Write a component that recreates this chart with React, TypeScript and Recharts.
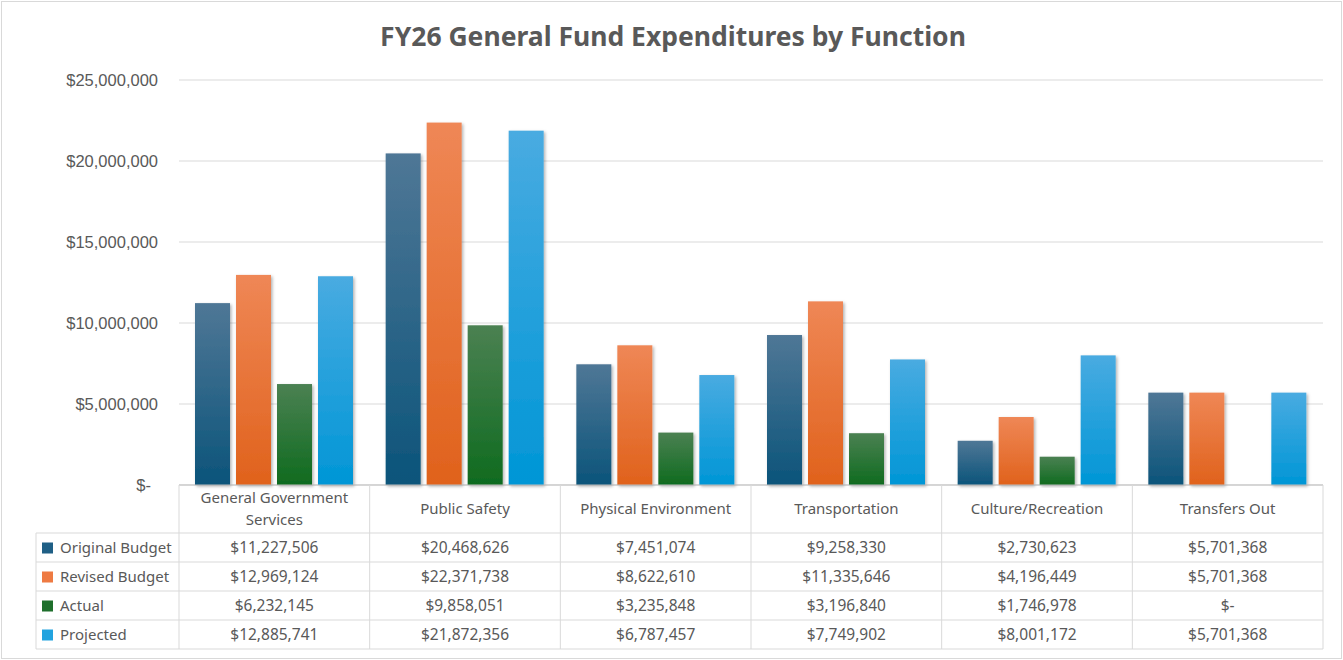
import { BarChart, Bar, XAxis, YAxis, CartesianGrid } from "recharts";

// FY26 general fund expenditures
const categories = [
  "General Government Services",
  "Public Safety",
  "Physical Environment",
  "Transportation",
  "Culture/Recreation",
  "Transfers Out",
];
const originalBudget = [11227506, 20468626, 7451074, 9258330, 2730623, 5701368];
const revisedBudget = [12969124, 22371738, 8622610, 11335646, 4196449, 5701368];
const actual = [6232145, 9858051, 3235848, 3196840, 1746978, 0];
const projected = [12885741, 21872356, 6787457, 7749902, 8001172, 5701368];
const yTicks = [0, 5000000, 10000000, 15000000, 20000000, 25000000];

const SERIES = [
  { key: "original", name: "Original Budget", values: originalBudget, top: "#4f7796", bottom: "#0b547a", swatch: "#1f5f85" },
  { key: "revised", name: "Revised Budget", values: revisedBudget, top: "#ef8756", bottom: "#e0621c", swatch: "#ee7a42" },
  { key: "actual", name: "Actual", values: actual, top: "#4b8152", bottom: "#0f6b1f", swatch: "#1e6f2c" },
  { key: "projected", name: "Projected", values: projected, top: "#49abe1", bottom: "#0096d6", swatch: "#22a3df" },
];

const data = categories.map((c, i) => {
  const row: Record<string, string | number> = { name: c };
  SERIES.forEach((s) => (row[s.key] = s.values[i]));
  return row;
});

const W = 1343;
const H = 660;
const PLOT_LEFT = 179;
const PLOT_RIGHT = 1323;
const TABLE_TOP = 485;
const HEADER_H = 48;
const ROW_H = 29;
const LEGEND_LEFT = 36;
const TEXT = "#595959";
const LINE = "#d9d9d9";
const FONT = "'Liberation Sans', Arial, sans-serif";
const TABLE_FONT = "'Noto Sans', 'Open Sans', sans-serif";

const money = (v: number) => (v === 0 ? "$-" : "$" + v.toLocaleString("en-US"));
const colW = (PLOT_RIGHT - PLOT_LEFT) / categories.length;

function wrap(label: string): string[] {
  if (label.length <= 22) return [label];
  const words = label.split(" ");
  const lines: string[] = [];
  let cur = "";
  words.forEach((w) => {
    const next = cur ? cur + " " + w : w;
    if (next.length > 19 && cur) {
      lines.push(cur);
      cur = w;
    } else cur = next;
  });
  lines.push(cur);
  return lines;
}

function TableColumn(props: any) {
  const { x, payload, index } = props;
  const left = x - colW / 2;
  const lines = wrap(payload.value);
  const bottom = TABLE_TOP + HEADER_H + ROW_H * SERIES.length;
  return (
    <g>
      <line x1={left + colW} x2={left + colW} y1={TABLE_TOP} y2={bottom} stroke={LINE} />
      {index === 0 && <line x1={left} x2={left} y1={TABLE_TOP} y2={bottom} stroke={LINE} />}
      <text x={x} textAnchor="middle" fontSize={15} fill={TEXT} fontFamily={TABLE_FONT}>
        {lines.map((l, i) => (
          <tspan key={i} x={x} y={TABLE_TOP + HEADER_H / 2 + 5 + (i - (lines.length - 1) / 2) * 22}>
            {l}
          </tspan>
        ))}
      </text>
      {SERIES.map((s, r) => (
        <text
          key={s.key}
          x={x}
          y={TABLE_TOP + HEADER_H + ROW_H * r + ROW_H / 2 + 5}
          textAnchor="middle"
          fontSize={15.5}
          fill={TEXT}
          fontFamily={TABLE_FONT}
        >
          {money(s.values[index])}
        </text>
      ))}
    </g>
  );
}

function YTick(props: any) {
  const { y, payload } = props;
  const v = payload.value as number;
  return (
    <text x={v === 0 ? 151 : 158} y={y + 5.5} textAnchor="end" fontSize={16.5} fill={TEXT} fontFamily={FONT}>
      {money(v)}
    </text>
  );
}

function ShadowBar(props: any) {
  const { x, y, width, height, fill } = props;
  if (!height || height <= 0) return null;
  return <rect x={x} y={y} width={width} height={height} fill={fill} filter="url(#barShadow)" />;
}

export default function App() {
  const bottom = TABLE_TOP + HEADER_H + ROW_H * SERIES.length;
  return (
    <div style={{ position: "fixed", left: 0, top: 0, width: W, height: H, background: "#fff" }}>
      <BarChart
        width={W}
        height={H}
        data={data}
        margin={{ top: 80, right: W - PLOT_RIGHT, left: 0, bottom: H - bottom }}
        barGap={6}
        barCategoryGap={16}
      >
        <defs>
          {SERIES.map((s) => (
            <linearGradient key={s.key} id={"grad-" + s.key} x1="0" y1="0" x2="0" y2="1">
              <stop offset="0%" stopColor={s.top} />
              <stop offset="100%" stopColor={s.bottom} />
            </linearGradient>
          ))}
          <filter id="barShadow" x="-20%" y="-5%" width="150%" height="115%">
            <feDropShadow dx="1.5" dy="1.5" stdDeviation="1.6" floodColor="#000" floodOpacity="0.3" />
          </filter>
        </defs>
        <CartesianGrid vertical={false} stroke={LINE} strokeWidth={1} />
        <YAxis
          width={PLOT_LEFT}
          domain={[0, 25000000]}
          ticks={yTicks}
          axisLine={false}
          tickLine={false}
          tick={<YTick />}
          interval={0}
        />
        <XAxis
          dataKey="name"
          height={bottom - TABLE_TOP}
          axisLine={{ stroke: "#bfbfbf" }}
          tickLine={false}
          tick={<TableColumn />}
          interval={0}
        />
        {SERIES.map((s) => (
          <Bar
            key={s.key}
            dataKey={s.key}
            name={s.name}
            fill={`url(#grad-${s.key})`}
            shape={<ShadowBar />}
            isAnimationActive={false}
          />
        ))}
      </BarChart>

      <svg width={W} height={H} style={{ position: "absolute", left: 0, top: 0, pointerEvents: "none" }}>
        <rect x={1.5} y={1.5} width={W - 3} height={H - 3} fill="none" stroke={LINE} />
        <text
          x={673}
          y={46}
          textAnchor="middle"
          fontSize={26.5}
          fontWeight="bold"
          fill={TEXT}
          fontFamily={TABLE_FONT}
        >
          FY26 General Fund Expenditures by Function
        </text>
        <line x1={LEGEND_LEFT} x2={LEGEND_LEFT} y1={TABLE_TOP + HEADER_H} y2={bottom} stroke={LINE} />
        {SERIES.map((s, r) => {
          const top = TABLE_TOP + HEADER_H + ROW_H * r;
          return (
            <g key={s.key}>
              <line x1={LEGEND_LEFT} x2={PLOT_RIGHT} y1={top} y2={top} stroke={LINE} />
              <rect x={42} y={top + ROW_H / 2 - 5} width={11} height={11} fill={s.swatch} />
              <text x={60} y={top + ROW_H / 2 + 5} fontSize={15} fill={TEXT} fontFamily={TABLE_FONT}>
                {s.name}
              </text>
            </g>
          );
        })}
        <line x1={LEGEND_LEFT} x2={PLOT_RIGHT} y1={bottom} y2={bottom} stroke={LINE} />
      </svg>
    </div>
  );
}
